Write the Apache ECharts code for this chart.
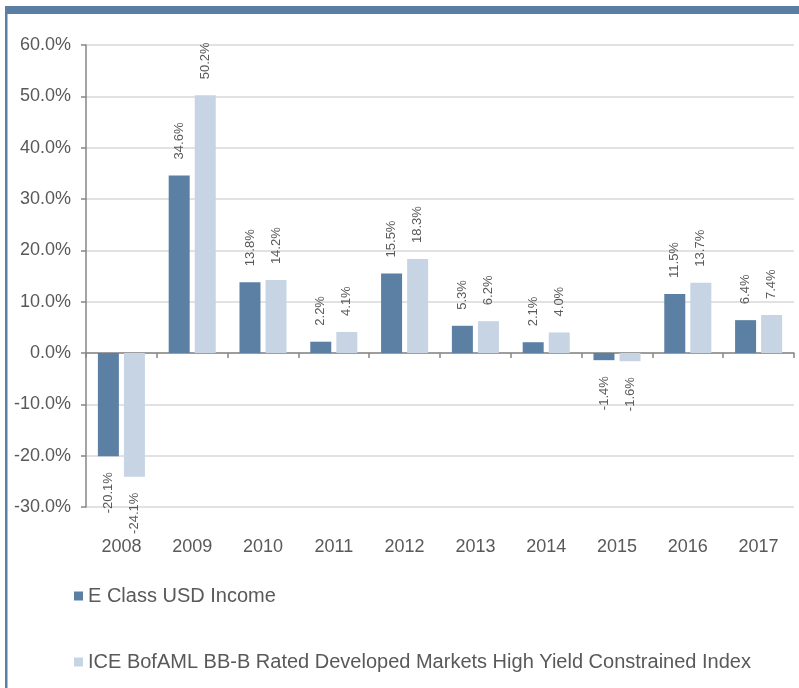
<!DOCTYPE html>
<html>
<head>
<meta charset="utf-8">
<script src="https://cdn.jsdelivr.net/npm/echarts@6/dist/echarts.min.js"></script>
<style>
  html, body { margin: 0; padding: 0; background: #fff; }
  #chart { width: 799px; height: 688px; }
</style>
</head>
<body>
<div id="chart"></div>
<script>
// data
const years = ["2008", "2009", "2010", "2011", "2012", "2013", "2014", "2015", "2016", "2017"]
const fundName = "E Class USD Income"
const indexName = "ICE BofAML BB-B Rated Developed Markets High Yield Constrained Index"
const fundReturns = [-20.1, 34.6, 13.8, 2.2, 15.5, 5.3, 2.1, -1.4, 11.5, 6.4]
const indexReturns = [-24.1, 50.2, 14.2, 4.1, 18.3, 6.2, 4.0, -1.6, 13.7, 7.4]
const yMin = -30, yMax = 60, yStep = 10

const FONT = "Liberation Sans, Arial, sans-serif"
const TXT = "#595959"
const FRAME = "#5b7fa4"

// rotated value labels: above positive bars, below negative ones
const withLabels = vals => vals.map(v => v < 0
  ? { value: v, label: { position: "bottom", align: "right" } }
  : { value: v })

const barLabel = {
  show: true, position: "top", rotate: 90, align: "left", verticalAlign: "middle",
  distance: 16, color: TXT, fontSize: 13, fontFamily: FONT,
  formatter: p => p.value.toFixed(1) + "%"
}

const chart = echarts.init(document.getElementById("chart"), null, { renderer: "canvas" })
chart.setOption({
  animation: false,
  textStyle: { fontFamily: FONT },
  graphic: [
    { type: "rect", shape: { x: 5, y: 6, width: 794, height: 8 }, style: { fill: FRAME }, silent: true },
    { type: "rect", shape: { x: 5, y: 6, width: 2.5, height: 682 }, style: { fill: FRAME }, silent: true }
  ],
  grid: { left: 86, right: 5, top: 45, bottom: 181 },
  legend: {
    orient: "vertical", left: 69, top: 581,
    itemWidth: 9, itemHeight: 9, itemGap: 46, icon: "rect",
    textStyle: { color: TXT, fontSize: 20, fontFamily: FONT },
    data: [fundName, indexName]
  },
  xAxis: [
    {
      type: "category", data: years, position: "bottom",
      axisLine: { show: false, onZero: false }, axisTick: { show: false },
      axisLabel: { color: TXT, fontSize: 18, fontFamily: FONT, margin: 31 }
    },
    {
      type: "category", data: years, position: "bottom",
      axisLine: { show: true, onZero: true, lineStyle: { color: "#868686", width: 1.5 } },
      axisTick: { show: true, length: 5, lineStyle: { color: "#868686", width: 1.5 } },
      axisLabel: { show: false }
    }
  ],
  yAxis: {
    type: "value", min: yMin, max: yMax, interval: yStep,
    axisLine: { show: true, lineStyle: { color: "#868686", width: 1.5 } },
    axisTick: { show: true, length: 5, lineStyle: { color: "#868686", width: 1.5 } },
    axisLabel: { color: TXT, fontSize: 18, fontFamily: FONT, margin: 15, formatter: v => v.toFixed(1) + "%" },
    splitLine: { lineStyle: { color: "#d9d9d9", width: 1.5 } }
  },
  series: [
    { name: fundName, type: "bar", xAxisIndex: 0, data: withLabels(fundReturns),
      barWidth: 21, barGap: "24%", itemStyle: { color: "#5b80a4" }, label: barLabel },
    { name: indexName, type: "bar", xAxisIndex: 0, data: withLabels(indexReturns),
      barWidth: 21, barGap: "24%", itemStyle: { color: "#c6d4e4" }, label: barLabel }
  ]
})
</script>
</body>
</html>
